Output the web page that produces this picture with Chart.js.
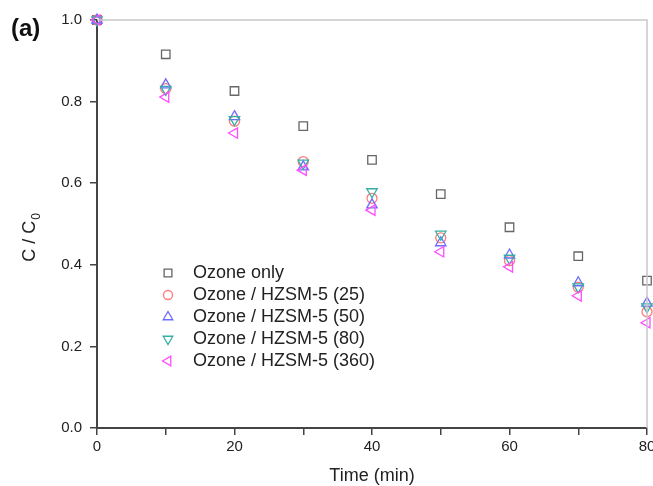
<!DOCTYPE html>
<html>
<head>
<meta charset="utf-8">
<script src="https://cdn.jsdelivr.net/npm/chart.js"></script>
<style>
  html, body { margin: 0; padding: 0; background: #fff; overflow: hidden; }
  #wrap { width: 653px; height: 486px; overflow: hidden; position: relative; }
  canvas { display: block; }
</style>
</head>
<body>
<div id="wrap"><canvas id="ozoneChart" width="670" height="486"></canvas></div>
<script>
// sampling times (min)
const times = [0, 10, 20, 30, 40, 50, 60, 70, 80];

// C / C0 for each run
const ozoneOnly = [1.0, 0.916, 0.826, 0.740, 0.657, 0.573, 0.492, 0.421, 0.361];
const hzsm25 = [1.0, 0.832, 0.752, 0.653, 0.563, 0.466, 0.410, 0.345, 0.285];
const hzsm50 = [1.0, 0.841, 0.763, 0.640, 0.547, 0.454, 0.424, 0.356, 0.306];
const hzsm80 = [1.0, 0.830, 0.756, 0.649, 0.579, 0.475, 0.416, 0.346, 0.297];
const hzsm360 = [1.0, 0.811, 0.723, 0.632, 0.534, 0.432, 0.395, 0.324, 0.258];

const seriesLabels = [
  "Ozone only",
  "Ozone / HZSM-5 (25)",
  "Ozone / HZSM-5 (50)",
  "Ozone / HZSM-5 (80)",
  "Ozone / HZSM-5 (360)"
];

const FONT = "'Liberation Sans', Arial, Helvetica, sans-serif";
const AXIS = "#444";

function points(values) {
  return values.map((v, i) => ({ x: times[i], y: v }));
}

function series(label, values, color, style, rotation, radius, order) {
  return {
    label: label,
    data: points(values),
    pointStyle: style,
    rotation: rotation,
    pointRadius: radius,
    pointBorderWidth: 1.3,
    borderColor: color,
    backgroundColor: "rgba(0,0,0,0)",
    showLine: false,
    clip: false,
    order: order
  };
}

const datasets = [
  series(seriesLabels[0], ozoneOnly, "#666666", "rect", 0, 6, 5),
  series(seriesLabels[1], hzsm25, "#ff7a7a", "circle", 0, 5, 4),
  series(seriesLabels[2], hzsm50, "#6b6bff", "triangle", 0, 6, 3),
  series(seriesLabels[3], hzsm80, "#36aea4", "triangle", 180, 6, 2),
  series(seriesLabels[4], hzsm360, "#ff4cff", "triangle", -90, 6, 1)
];

// light frame on top/right, y title with subscript, legend and panel tag
const decorations = {
  id: "decorations",
  afterDraw(chart) {
    const ctx = chart.ctx;
    const a = chart.chartArea;
    ctx.save();

    ctx.strokeStyle = "#c8c8c8";
    ctx.lineWidth = 1.5;
    ctx.beginPath();
    ctx.moveTo(a.left, a.top);
    ctx.lineTo(a.right, a.top);
    ctx.lineTo(a.right, a.bottom);
    ctx.stroke();

    // y axis title "C / C0"
    ctx.fillStyle = "#222";
    ctx.save();
    ctx.translate(35, 238);
    ctx.rotate(-Math.PI / 2);
    ctx.font = "18px " + FONT;
    ctx.textBaseline = "alphabetic";
    ctx.textAlign = "left";
    const main = "C / C";
    const w = ctx.measureText(main).width;
    ctx.font = "12px " + FONT;
    const ws = ctx.measureText("0").width;
    const start = -(w + ws) / 2;
    ctx.font = "18px " + FONT;
    ctx.fillText(main, start, 0);
    ctx.font = "12px " + FONT;
    ctx.fillText("0", start + w + 1, 5);
    ctx.restore();

    // legend
    const lx = 168, tx = 193, ly = 273, step = 22;
    chart.data.datasets.forEach((ds, i) => {
      const y = ly + i * step;
      ctx.strokeStyle = ds.borderColor;
      ctx.fillStyle = "rgba(0,0,0,0)";
      ctx.lineWidth = 1.3;
      Chart.helpers.drawPoint(ctx, {
        pointStyle: ds.pointStyle,
        rotation: ds.rotation,
        radius: ds.pointRadius - 0.5,
        borderWidth: 1.3
      }, lx, y);
      ctx.fillStyle = "#222";
      ctx.font = "18px " + FONT;
      ctx.textAlign = "left";
      ctx.textBaseline = "middle";
      ctx.fillText(ds.label, tx, y);
    });

    // panel tag
    ctx.font = "bold 24px " + FONT;
    ctx.fillStyle = "#111";
    ctx.textAlign = "left";
    ctx.textBaseline = "middle";
    ctx.fillText("(a)", 11, 29);

    ctx.restore();
  }
};

new Chart(document.getElementById("ozoneChart"), {
  type: "scatter",
  data: { datasets: datasets },
  options: {
    responsive: false,
    animation: false,
    layout: { padding: { top: 20, right: 23, bottom: 0, left: 0 } },
    plugins: {
      legend: { display: false },
      tooltip: { enabled: false }
    },
    scales: {
      x: {
        type: "linear",
        min: 0,
        max: 80,
        afterFit(scale) { scale.height = 58; },
        border: { color: AXIS, width: 2 },
        grid: { drawOnChartArea: false, drawTicks: true, tickLength: 7, color: AXIS, lineWidth: 1.5 },
        ticks: {
          stepSize: 10,
          padding: 3,
          color: "#222",
          font: { family: FONT, size: 15 },
          maxRotation: 0,
          autoSkip: false,
          callback: (v) => (v % 20 === 0 ? v : "")
        },
        title: {
          display: true,
          text: "Time (min)",
          color: "#222",
          font: { family: FONT, size: 18 },
          padding: { top: 0, bottom: -1 }
        }
      },
      y: {
        type: "linear",
        min: 0,
        max: 1,
        afterFit(scale) { scale.width = 97; },
        border: { color: AXIS, width: 2 },
        grid: { drawOnChartArea: false, drawTicks: true, tickLength: 7, color: AXIS, lineWidth: 1.5 },
        ticks: {
          stepSize: 0.2,
          padding: 8,
          color: "#222",
          font: { family: FONT, size: 15 },
          callback: (v) => v.toFixed(1)
        }
      }
    }
  },
  plugins: [decorations]
});
</script>
</body>
</html>
